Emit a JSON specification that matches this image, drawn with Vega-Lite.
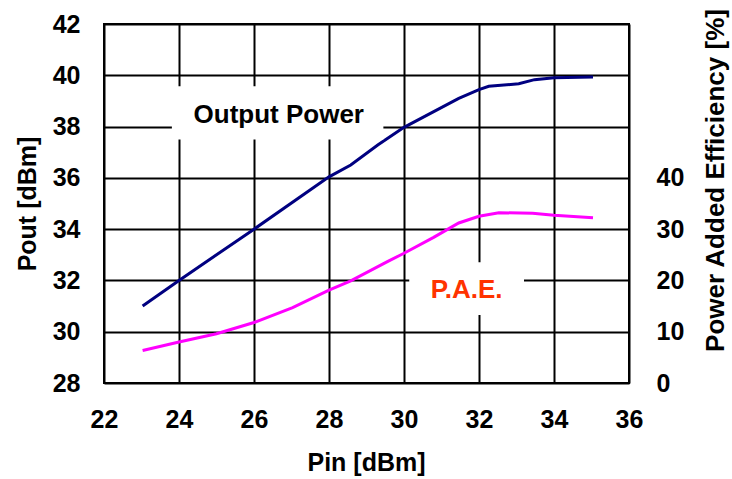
{
  "$schema": "https://vega.github.io/schema/vega-lite/v6.json",
  "autosize": {"type": "none"},
  "width": 525,
  "height": 359,
  "padding": {"left": 104, "top": 24, "right": 103, "bottom": 96},
  "background": "white",
  "config": {
    "view": {"stroke": "black", "strokeWidth": 2},
    "font": "Liberation Sans",
    "axis": {
      "labelFont": "Liberation Sans", "labelFontWeight": "bold", "labelColor": "black",
      "titleFont": "Liberation Sans", "titleFontWeight": "bold", "titleColor": "black",
      "titleBaseline": "middle", "labelFlush": false, "labelOverlap": false,
      "tickSize": 0, "domain": false, "gridColor": "black", "gridWidth": 2, "gridOpacity": 1
    }
  },
  "datasets": {
    "pout": [
      {"pin": 23.03, "pout": 31.0},
      {"pin": 24.0, "pout": 32.0},
      {"pin": 26.0, "pout": 34.0},
      {"pin": 28.0, "pout": 36.04},
      {"pin": 28.58, "pout": 36.5},
      {"pin": 29.3, "pout": 37.28},
      {"pin": 30.0, "pout": 37.97},
      {"pin": 31.46, "pout": 39.1},
      {"pin": 32.0, "pout": 39.44},
      {"pin": 32.26, "pout": 39.57},
      {"pin": 33.06, "pout": 39.67},
      {"pin": 33.48, "pout": 39.83},
      {"pin": 34.0, "pout": 39.9},
      {"pin": 35.04, "pout": 39.93}
    ],
    "pae": [
      {"pin": 23.03, "pae": 6.35},
      {"pin": 24.0, "pae": 8.0},
      {"pin": 25.0, "pae": 9.6},
      {"pin": 26.0, "pae": 11.8},
      {"pin": 27.03, "pae": 14.7},
      {"pin": 28.0, "pae": 18.1},
      {"pin": 28.58, "pae": 19.9},
      {"pin": 29.57, "pae": 23.7},
      {"pin": 30.0, "pae": 25.3},
      {"pin": 30.79, "pae": 28.4},
      {"pin": 31.46, "pae": 31.2},
      {"pin": 32.0, "pae": 32.5},
      {"pin": 32.53, "pae": 33.2},
      {"pin": 33.43, "pae": 33.1},
      {"pin": 34.0, "pae": 32.7},
      {"pin": 35.04, "pae": 32.2}
    ],
    "labels": [
      {"label": "Output Power", "x1": 23.81, "x2": 29.45, "y1": 37.5, "y2": 39.57, "tx": 26.66, "ty": 38.46, "color": "black"},
      {"label": "P.A.E.", "x1": 30.14, "x2": 33.2, "y1": 30.65, "y2": 32.71, "tx": 31.67, "ty": 31.62, "color": "#FF3300"}
    ]
  },
  "layer": [
    {
      "data": {"name": "pout"},
      "mark": {"type": "line", "color": "#000080", "strokeWidth": 3},
      "encoding": {
        "x": {"field": "pin", "type": "quantitative",
              "scale": {"domain": [22, 36], "nice": false},
              "axis": {"values": [22, 24, 26, 28, 30, 32, 34, 36], "title": "Pin [dBm]", "labelFontSize": 25, "titleFontSize": 25, "labelPadding": 24, "titleX": 262, "titleY": 79, "grid": true}},
        "y": {"field": "pout", "type": "quantitative",
              "scale": {"domain": [28, 42], "nice": false, "zero": false},
              "axis": {"values": [28, 30, 32, 34, 36, 38, 40, 42], "title": "Pout [dBm]", "labelFontSize": 25, "titleFontSize": 25, "labelPadding": 24, "titleX": -77, "titleY": 179.5, "grid": true}}
      }
    },
    {
      "data": {"name": "labels"},
      "mark": {"type": "rect", "fill": "white", "stroke": null},
      "encoding": {
        "x": {"field": "x1", "type": "quantitative", "scale": {"domain": [22, 36], "nice": false}},
        "x2": {"field": "x2"},
        "y": {"field": "y1", "type": "quantitative", "scale": {"domain": [28, 42], "nice": false, "zero": false}, "axis": null},
        "y2": {"field": "y2"}
      }
    },
    {
      "data": {"name": "labels"},
      "mark": {"type": "text", "font": "Liberation Sans", "fontWeight": "bold", "fontSize": 26, "align": "center", "baseline": "middle"},
      "encoding": {
        "x": {"field": "tx", "type": "quantitative", "scale": {"domain": [22, 36], "nice": false}},
        "y": {"field": "ty", "type": "quantitative", "scale": {"domain": [28, 42], "nice": false, "zero": false}, "axis": null},
        "text": {"field": "label"},
        "color": {"field": "color", "type": "nominal", "scale": null}
      }
    },
    {
      "data": {"name": "pae"},
      "mark": {"type": "line", "color": "#FF00FF", "strokeWidth": 3},
      "encoding": {
        "x": {"field": "pin", "type": "quantitative", "scale": {"domain": [22, 36], "nice": false}},
        "y": {"field": "pae", "type": "quantitative",
              "scale": {"domain": [0, 70], "nice": false},
              "axis": {"orient": "right", "values": [0, 10, 20, 30, 40], "title": "Power Added Efficiency [%]", "labelFontSize": 25, "titleFontSize": 26, "labelPadding": 27, "titleAngle": -90, "titleX": 86, "titleY": 156, "grid": false}}
      }
    }
  ],
  "resolve": {"scale": {"y": "independent"}}
}
